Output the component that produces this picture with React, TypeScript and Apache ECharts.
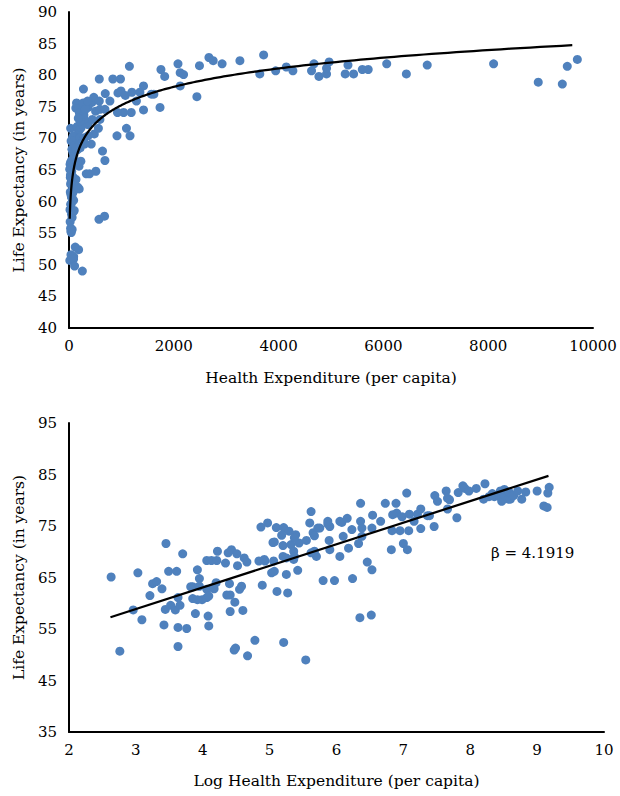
import React, { useEffect, useRef } from "react";
import * as echarts from "echarts";

// [log health expenditure per capita, life expectancy in years]
const LOW_SPENDERS: [number, number][] = [
  [2.63, 65.1], [2.76, 50.7], [3.03, 65.9], [2.96, 58.7], [3.09, 56.8], [3.21, 61.5], [3.25, 63.8],
  [3.31, 64.2], [3.39, 62.8], [3.45, 71.6], [3.42, 55.8], [3.44, 58.8], [3.49, 66.2], [3.61, 66.2],
  [3.63, 51.6], [3.63, 55.3], [3.76, 55.1], [3.7, 69.6], [3.59, 58.7], [3.66, 59.6], [3.63, 61.1],
  [3.52, 59.6], [3.85, 63.2], [3.85, 60.9], [3.89, 58.0], [3.92, 66.5], [3.95, 64.8], [3.99, 60.7],
  [4.08, 57.5], [4.09, 55.6], [4.06, 61.1], [4.06, 68.3], [4.13, 68.3], [4.22, 70.1], [4.21, 68.3],
  [4.15, 63.0], [4.2, 64.0], [4.34, 67.8], [4.38, 69.8], [4.43, 70.4], [4.51, 69.6], [4.52, 67.3],
  [4.62, 68.8], [4.66, 68.0], [4.4, 63.8], [4.36, 61.6], [4.41, 61.6], [4.48, 60.2], [4.41, 58.4],
  [4.6, 58.6], [4.55, 62.7], [4.58, 63.3], [4.49, 51.3], [4.47, 50.9], [4.78, 52.8], [4.67, 49.8],
  [4.84, 68.2], [4.93, 68.2], [4.89, 63.5], [4.87, 74.8], [4.97, 75.6], [5.05, 71.8], [5.03, 65.9],
  [3.82, 63.2], [3.95, 63.3], [4.06, 62.7], [4.09, 61.4], [4.17, 62.8], [3.92, 60.7],
];

const MIDDLE_SPENDERS: [number, number][] = [
  [5.06, 68.2], [5.1, 74.7], [5.21, 74.7], [5.29, 74.0], [5.39, 73.3], [5.07, 71.9], [5.2, 71.2],
  [5.32, 71.4], [5.44, 71.7], [5.55, 72.2], [5.62, 77.8], [5.6, 75.6], [5.65, 73.7], [5.72, 74.6],
  [5.87, 75.4], [5.89, 72.2], [6.05, 69.1], [6.08, 75.7], [6.18, 70.7], [5.8, 64.4], [5.97, 64.4],
  [6.24, 64.8], [6.35, 57.2], [5.42, 66.4], [5.25, 65.6], [5.11, 62.3], [5.27, 62.0], [5.54, 49.0],
  [5.21, 52.4], [5.2, 69.1], [5.36, 68.5], [5.36, 70.1], [5.67, 70.1], [5.7, 69.1], [5.9, 70.4],
  [6.36, 79.4], [7.05, 81.4], [6.73, 79.4], [6.89, 79.4], [6.9, 77.5], [7.26, 78.3], [7.36, 77.0],
  [6.05, 75.9], [6.16, 76.5], [6.36, 75.9], [6.54, 77.1], [6.66, 75.9], [6.84, 77.2], [6.98, 76.8],
  [7.09, 77.3], [7.16, 75.9], [7.08, 74.1], [7.26, 74.5], [6.95, 74.1], [6.83, 74.1], [6.82, 70.4],
  [7.0, 71.6], [7.06, 70.4], [6.53, 66.5], [6.46, 68.0], [6.52, 57.7], [6.38, 73.0], [6.33, 71.6],
  [6.1, 73.0], [6.23, 74.3], [6.38, 74.6], [6.53, 74.6], [5.9, 74.9], [5.75, 74.6], [5.67, 73.1],
  [5.62, 69.8], [5.37, 72.7], [5.18, 73.2], [5.25, 68.8], [5.37, 69.1], [4.92, 68.5], [5.07, 66.2],
  [5.87, 75.9], [7.21, 77.3],
];

const HIGH_SPENDERS: [number, number][] = [
  [7.47, 80.9], [7.51, 79.8], [7.64, 81.8], [7.66, 80.4], [7.69, 80.1], [7.66, 78.3], [7.82, 81.5],
  [7.8, 76.6], [7.46, 74.9], [7.39, 77.0], [7.89, 82.8], [7.92, 82.3], [7.98, 81.8], [8.09, 82.3],
  [8.22, 83.2], [8.2, 80.2], [8.28, 80.7], [8.33, 81.3], [8.36, 80.7], [8.45, 81.8], [8.44, 80.7],
  [8.47, 79.8], [8.5, 80.2], [8.5, 81.1], [8.51, 82.1], [8.57, 80.2], [8.58, 81.6], [8.6, 80.2],
  [8.63, 80.9], [8.65, 80.9], [8.71, 81.8], [8.77, 80.2], [8.83, 81.6], [9.0, 81.8], [9.1, 78.9],
  [9.15, 78.6], [9.16, 81.4], [9.18, 82.5],
];

// Fitted log trend: LE = intercept + beta * ln(expenditure)
const TREND_BETA = 4.1919;
const TREND_INTERCEPT = 46.3;
const TREND_LOG_RANGE: [number, number] = [2.62, 9.17];
const BETA_LABEL = "β = 4.1919";

const TOP_X_AXIS = { min: 0, max: 10000, interval: 2000 };
const TOP_Y_AXIS = { min: 40, max: 90, interval: 5 };
const BOTTOM_X_AXIS = { min: 2, max: 10, interval: 1 };
const BOTTOM_Y_AXIS = { min: 35, max: 95, labelStep: 10 };

const X_TITLE_TOP = "Health Expenditure (per capita)";
const X_TITLE_BOTTOM = "Log Health Expenditure (per capita)";
const Y_TITLE = "Life Expectancy (in years)";

const FONT = "'DejaVu Serif', 'Liberation Serif', serif";
const DOT = "#4F81BD";

export default function App() {
  const ref = useRef<HTMLDivElement>(null);

  useEffect(() => {
    if (!ref.current) return;
    const chart = echarts.init(ref.current, undefined, { renderer: "svg" });

    const logPoints = [...LOW_SPENDERS, ...MIDDLE_SPENDERS, ...HIGH_SPENDERS];
    const levelPoints = logPoints.map(([l, y]) => [Math.exp(l), y]);

    const steps = 300;
    const trendLevel: number[][] = [];
    for (let i = 0; i <= steps; i++) {
      const l = TREND_LOG_RANGE[0] + ((TREND_LOG_RANGE[1] - TREND_LOG_RANGE[0]) * i) / steps;
      trendLevel.push([Math.exp(l), TREND_INTERCEPT + TREND_BETA * l]);
    }
    const trendLog = TREND_LOG_RANGE.map((l) => [l, TREND_INTERCEPT + TREND_BETA * l]);

    const axisLine = { show: true, lineStyle: { color: "#000", width: 2 } };
    const label = { color: "#000", fontFamily: FONT, fontSize: 15 };
    const nameStyle = { color: "#000", fontFamily: FONT, fontSize: 15.5 };
    const plain = (v: number) => String(v);

    chart.setOption({
      animation: false,
      backgroundColor: "#fff",
      grid: [
        { left: 69, top: 12, width: 524, height: 316 },
        { left: 69, top: 423, width: 535, height: 309 },
      ],
      xAxis: [
        {
          type: "value", gridIndex: 0, ...TOP_X_AXIS,
          axisLine, axisTick: { show: false }, splitLine: { show: false },
          axisLabel: { ...label, margin: 10, formatter: plain },
          name: X_TITLE_TOP, nameLocation: "middle", nameGap: 42, nameTextStyle: nameStyle,
        },
        {
          type: "value", gridIndex: 1, ...BOTTOM_X_AXIS,
          axisLine, axisTick: { show: false }, splitLine: { show: false },
          axisLabel: { ...label, margin: 10, formatter: plain },
          name: X_TITLE_BOTTOM, nameLocation: "middle", nameGap: 41, nameTextStyle: nameStyle,
        },
      ],
      yAxis: [
        {
          type: "value", gridIndex: 0, ...TOP_Y_AXIS,
          axisLine, axisTick: { show: false }, splitLine: { show: false },
          axisLabel: { ...label, margin: 12, formatter: plain },
          name: Y_TITLE, nameLocation: "middle", nameGap: 40, nameTextStyle: nameStyle,
        },
        {
          type: "value", gridIndex: 1, min: BOTTOM_Y_AXIS.min, max: BOTTOM_Y_AXIS.max, interval: 5,
          axisLine, axisTick: { show: false }, splitLine: { show: false },
          axisLabel: {
            ...label, margin: 12,
            formatter: (v: number) =>
              (v - BOTTOM_Y_AXIS.min) % BOTTOM_Y_AXIS.labelStep === 0 ? String(v) : "",
          },
          name: Y_TITLE, nameLocation: "middle", nameGap: 40, nameTextStyle: nameStyle,
        },
      ],
      series: [
        {
          type: "scatter", xAxisIndex: 0, yAxisIndex: 0, data: levelPoints,
          symbolSize: 9, itemStyle: { color: DOT, opacity: 1 }, z: 2,
        },
        {
          type: "line", xAxisIndex: 0, yAxisIndex: 0, data: trendLevel, showSymbol: false,
          smooth: false, lineStyle: { color: "#000", width: 2.25 }, z: 3,
        },
        {
          type: "scatter", xAxisIndex: 1, yAxisIndex: 1, data: logPoints,
          symbolSize: 9, itemStyle: { color: DOT, opacity: 1 }, z: 2,
        },
        {
          type: "line", xAxisIndex: 1, yAxisIndex: 1, data: trendLog, showSymbol: false,
          lineStyle: { color: "#000", width: 2.25 }, z: 3,
        },
      ],
      graphic: [
        {
          type: "text", left: 491, top: 545,
          style: { text: BETA_LABEL, fill: "#000", font: `15px ${FONT}` },
        },
      ],
    });

    return () => chart.dispose();
  }, []);

  return (
    <div
      ref={ref}
      style={{ position: "fixed", left: 0, top: 0, width: 620, height: 796, background: "#fff" }}
    />
  );
}
